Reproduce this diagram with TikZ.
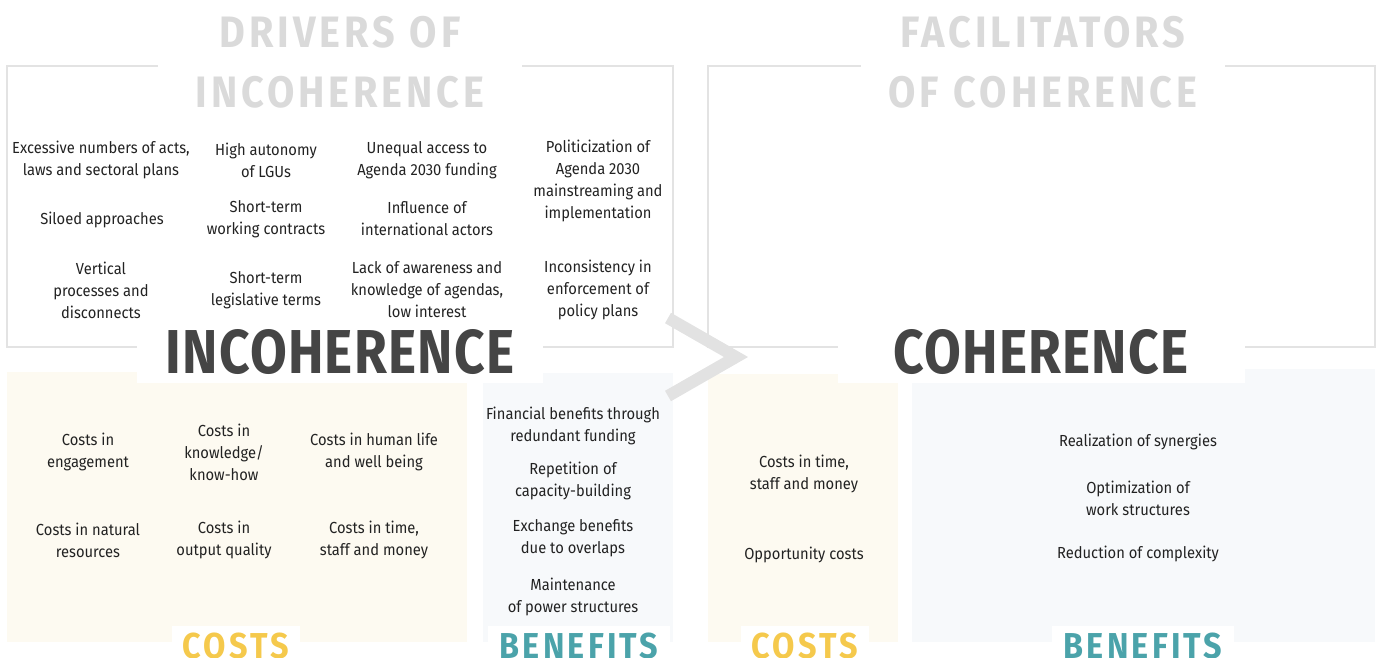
\documentclass[tikz,border=0pt]{standalone}
\usepackage{fontspec}
\setmainfont[FakeStretch=0.92]{Fira Sans}
\newfontfamily\headfont[FakeStretch=0.9,LetterSpace=9]{Fira Sans}
\newfontfamily\corefont[FakeStretch=0.86,LetterSpace=2]{Fira Sans}
\usetikzlibrary{positioning}

\definecolor{framegray}{HTML}{E3E3E3}
\definecolor{titlegray}{HTML}{DADADA}
\definecolor{coregray}{HTML}{454545}
\definecolor{itemgray}{HTML}{222222}
\definecolor{costfill}{HTML}{FDFAF1}
\definecolor{benefitfill}{HTML}{F7F9FB}
\definecolor{costyellow}{HTML}{F5C94C}
\definecolor{benefitteal}{HTML}{4BA3AA}
\definecolor{chevgray}{HTML}{E2E2E2}

\begin{document}
\begin{tikzpicture}[x=1pt,y=-1pt,
  frame/.style={draw=framegray, line width=1.2pt},
  costarea/.style={fill=costfill},
  benefitarea/.style={fill=benefitfill},
  chevron/.style={draw=chevgray, line width=12pt, line join=miter},
  title/.style={font=\headfont\bfseries\fontsize{44}{60}\selectfont, text=titlegray, align=center, fill=white, text width=364pt, minimum height=118pt, inner sep=0pt},
  core/.style={font=\corefont\bfseries\fontsize{62}{62}\selectfont, text=coregray, fill=white, minimum height=62pt, inner sep=0pt},
  item/.style={align=center, font=\fontsize{16}{22}\selectfont, text=itemgray, inner sep=0pt},
  costtag/.style={font=\headfont\bfseries\fontsize{36}{36}\selectfont, text=costyellow, fill=white, minimum width=128pt, minimum height=40pt, inner sep=0pt},
  benefittag/.style={font=\headfont\bfseries\fontsize{36}{36}\selectfont, text=benefitteal, fill=white, minimum height=40pt, inner xsep=12pt, inner ysep=0pt}
]
  \useasboundingbox (0,0) rectangle (1384,657);

  % frames and areas
  \draw[frame] (7,66) rectangle (673,347);
  \draw[frame] (708,66) rectangle (1375,347);
  \fill[costarea] (7,372) rectangle (467,642);
  \fill[benefitarea] (483,373) rectangle (673,642);
  \fill[costarea] (708,374) rectangle (898,642);
  \fill[benefitarea] (912,369) rectangle (1375,642);
  \draw[chevron] (668,318) -- (736,357) -- (668,396);

  % headings
  \node[title] (drivers) at (340,62) {DRIVERS OF\\INCOHERENCE};
  \node[title] (facilitators) at (1043,62) {FACILITATORS\\OF COHERENCE};
  \node[core, minimum width=406pt] (incoherence) at (340,352) {INCOHERENCE};
  \node[core, minimum width=407pt] (coherence) at (1041,352) {COHERENCE};

  % drivers of incoherence
  \node[item] (acts) at (101,160) {Excessive numbers of acts,\\laws and sectoral plans};
  \node[item] (autonomy) at (266,160) {High autonomy\\of LGUs};
  \node[item] (access) at (427,160) {Unequal access to\\Agenda 2030 funding};
  \node[item] (politics) at (598,181) {Politicization of\\Agenda 2030\\mainstreaming and\\implementation};
  \node[item] (siloed) at (102,220) {Siloed approaches};
  \node[item] (contracts) at (266,219) {Short-term\\working contracts};
  \node[item] (influence) at (427,219) {Influence of\\international actors};
  \node[item] (vertical) at (101,290) {Vertical\\processes and\\disconnects};
  \node[item] (terms) at (266,290) {Short-term\\legislative terms};
  \node[item] (awareness) at (427,290) {Lack of awareness and\\knowledge of agendas,\\low interest};
  \node[item] (enforcement) at (598,290) {Inconsistency in\\enforcement of\\policy plans};

  % costs and benefits of incoherence
  \node[item] (engagement) at (88,452) {Costs in\\engagement};
  \node[item] (knowhow) at (224,452) {Costs in\\knowledge/\\know-how};
  \node[item] (humanlife) at (374,452) {Costs in human life\\and well being};
  \node[item] (resources) at (88,540) {Costs in natural\\resources};
  \node[item] (quality) at (224,540) {Costs in\\output quality};
  \node[item] (timeA) at (374,540) {Costs in time,\\staff and money};
  \node[item] (funding) at (573,426) {Financial benefits through\\redundant funding};
  \node[item] (repetition) at (573,481) {Repetition of\\capacity-building};
  \node[item] (exchange) at (573,538) {Exchange benefits\\due to overlaps};
  \node[item] (power) at (573,597) {Maintenance\\of power structures};

  % costs and benefits of coherence
  \node[item] (timeB) at (804,474) {Costs in time,\\staff and money};
  \node[item] (opportunity) at (804,555) {Opportunity costs};
  \node[item] (synergies) at (1138,442) {Realization of synergies};
  \node[item] (optimization) at (1138,498) {Optimization of\\work structures};
  \node[item] (complexity) at (1138,554) {Reduction of complexity};

  % area tags
  \node[costtag] (costsA) at (236,646) {COSTS};
  \node[benefittag] (benefitsA) at (579,646) {BENEFITS};
  \node[costtag] (costsB) at (805,646) {COSTS};
  \node[benefittag] (benefitsB) at (1143,646) {BENEFITS};
\end{tikzpicture}
\end{document}
